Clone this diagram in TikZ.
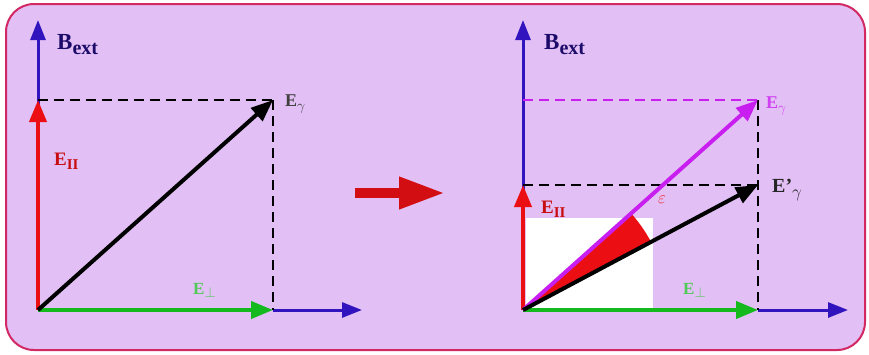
\documentclass[tikz,border=0pt]{standalone}
\usepackage{fontspec}
\setmainfont{Liberation Serif}
\usetikzlibrary{arrows.meta,calc}
\definecolor{panelfill}{RGB}{226,192,245}
\definecolor{panelborder}{RGB}{210,40,100}
\definecolor{axisblue}{RGB}{50,20,190}
\definecolor{vred}{RGB}{235,15,20}
\definecolor{vgreen}{RGB}{20,185,30}
\definecolor{vmag}{RGB}{200,30,240}
% #1 main size, #2 main text, #3 sub size, #4 sub text, #5 drop
\newcommand{\lblsub}[5]{\fontsize{#1}{#1}\selectfont\textbf{#2}\raisebox{-#5pt}{\fontsize{#3}{#3}\selectfont\textbf{#4}}}
\begin{document}
\begin{tikzpicture}[x=1pt,y=-1pt,
  axis/.style={axisblue,line width=3pt,-{Triangle[length=20pt,width=15pt]}},
  vec/.style={line width=4pt,-{Triangle[length=22pt,width=17pt]}},
  guide/.style={line width=2pt,dash pattern=on 10pt off 6pt},
  lbl/.style={inner sep=0pt,anchor=west}]
\useasboundingbox (0,0) rectangle (869,354);
\fill[white] (0,0) rectangle (869,354);
\draw[panelborder,line width=2pt,fill=panelfill,rounded corners=28pt] (6,4) rectangle (865,350);

% ---------- left panel ----------
\coordinate (O1) at (38,310);
\coordinate (Y1) at (38,20);
\coordinate (H1) at (38,100);
\coordinate (P1) at (273,100);
\coordinate (Q1) at (273,310);
\coordinate (X1) at (362,310);
\draw[axis] (O1) -- (Y1);
\draw[axis] (Q1) -- (X1);
\draw[guide] (H1) -- (P1);
\draw[guide] (P1) -- (Q1);
\draw[vec,vred] (O1) -- (H1);
\draw[vec,vgreen] (O1) -- (Q1);
\draw[vec,black] (O1) -- (P1);
\node[lbl,axisblue!55!black] (b1) at (57,45) {\lblsub{23}{B}{20}{ext}{5}};
\node[lbl,black!75] (eg1) at (285,104) {\lblsub{18}{E}{15}{$\gamma$}{4}};
\node[lbl,vred!85!black] (ep1) at (54,161) {\lblsub{19}{E}{15}{II}{4}};
\node[lbl,vgreen!75!white] (et1) at (193,290) {\lblsub{17}{E}{14}{$\perp$}{3}};

% ---------- middle arrow ----------
\coordinate (ma) at (355,193);
\coordinate (mb) at (445,193);
\draw[vred!90!black,line width=10pt,-{Triangle[length=46pt,width=30pt]}] (ma) -- (mb);

% ---------- right panel ----------
\coordinate (O2) at (523,310);
\coordinate (Y2) at (523,20);
\coordinate (Hm) at (523,100);
\coordinate (Hb) at (523,185);
\coordinate (Pm) at (758,100);
\coordinate (Pb) at (758,185);
\coordinate (Q2) at (758,310);
\coordinate (X2) at (848,310);
\fill[white] (526,218) rectangle (653,308);
\draw[axis] (O2) -- (Y2);
\draw[axis] (Q2) -- (X2);
\draw[guide,vmag] (Hm) -- (Pm);
\draw[guide] (Hb) -- (Pb);
\draw[guide] (Pm) -- (Q2);
\fill[vred] (O2) -- ++(-28.0:145) arc[start angle=-28.0,end angle=-41.8,radius=145] -- cycle;
\draw[vec,vred] (O2) -- (Hb);
\draw[vec,vgreen] (O2) -- (Q2);
\draw[vec,vmag] (O2) -- (Pm);
\draw[vec,black] (O2) -- (Pb);
\node[lbl,axisblue!55!black] (b2) at (544,45) {\lblsub{23}{B}{20}{ext}{5}};
\node[lbl,vmag!85!white] (eg2) at (766,106) {\lblsub{18}{E}{15}{$\gamma$}{4}};
\node[lbl,black!85] (egp) at (772,190) {\lblsub{20}{E'}{16}{$\gamma$}{5}};
\node[lbl,vred!90!white] (eps) at (658,200) {\fontsize{17}{17}\selectfont $\varepsilon$};
\node[lbl,vred!85!black] (ep2) at (541,209) {\lblsub{19}{E}{15}{II}{4}};
\node[lbl,vgreen!75!white] (et2) at (683,290) {\lblsub{17}{E}{14}{$\perp$}{3}};
\end{tikzpicture}
\end{document}
